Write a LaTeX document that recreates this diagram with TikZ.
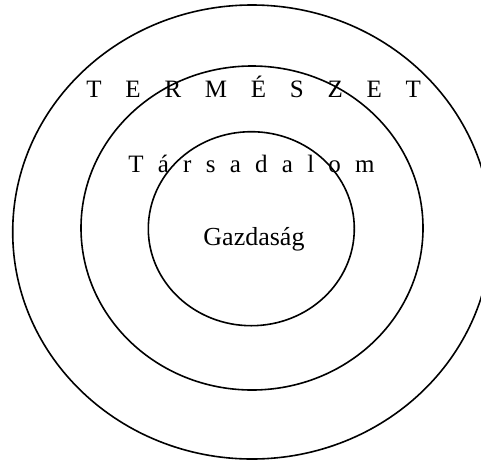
\documentclass[tikz,border=0pt]{standalone}
\usepackage{fontspec}
\setmainfont{Liberation Serif}
\usepackage{tikz}
\usetikzlibrary{positioning}
\tikzset{
  ring/.style={draw=black, line width=1.6pt},
  ringlabel/.style={inner sep=0pt, anchor=base,
    font=\fontsize{25}{30}\selectfont}
}

\begin{document}
\begin{tikzpicture}[x=1pt, y=-1pt]
  \useasboundingbox (0,0) rectangle (481,461);
  % Rings
  \draw[ring] (252,232) ellipse [x radius=239.3, y radius=227];
  \draw[ring] (252,228) ellipse [x radius=171, y radius=162];
  \draw[ring] (251.3,228.7) ellipse [x radius=103, y radius=97];
  % Labels
  \node[ringlabel] (termeszet) at (253.7,97.7)
    {\spaceskip=0.95em\relax T E R M É S Z E T};
  \node[ringlabel] (tarsadalom) at (251.5,172.7)
    {\spaceskip=0.57em\relax T á r s a d a l o m};
  \node[ringlabel, font=\fontsize{26}{30}\selectfont] (gazdasag)
    at (254,245) {Gazdaság};
\end{tikzpicture}
\end{document}
